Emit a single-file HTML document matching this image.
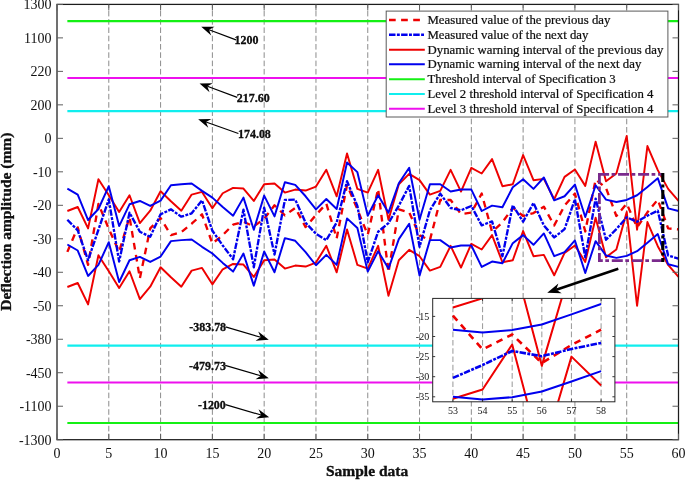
<!DOCTYPE html>
<html lang="en"><head><meta charset="utf-8"><title>Deflection amplitude chart</title>
<style>html,body{margin:0;padding:0;background:#fff;}svg{display:block;}text{font-family:"Liberation Serif","Times New Roman",serif;fill:#111;}</style>
</head><body>
<svg width="685" height="480" viewBox="0 0 685 480">
<rect width="685" height="480" fill="#fff"/>
<g stroke="#8c8c8c" stroke-width="1" stroke-dasharray="5.6 2.7" fill="none">
<line x1="108.79" y1="439.7" x2="108.79" y2="4.4"/>
<line x1="160.58" y1="439.7" x2="160.58" y2="4.4"/>
<line x1="212.38" y1="439.7" x2="212.38" y2="4.4"/>
<line x1="264.17" y1="439.7" x2="264.17" y2="4.4"/>
<line x1="315.96" y1="439.7" x2="315.96" y2="4.4"/>
<line x1="367.75" y1="439.7" x2="367.75" y2="4.4"/>
<line x1="419.54" y1="439.7" x2="419.54" y2="4.4"/>
<line x1="471.33" y1="439.7" x2="471.33" y2="4.4"/>
<line x1="523.12" y1="439.7" x2="523.12" y2="4.4"/>
<line x1="574.92" y1="439.7" x2="574.92" y2="4.4"/>
<line x1="626.71" y1="439.7" x2="626.71" y2="4.4"/>
</g>
<line x1="67.36" y1="21.1" x2="678.50" y2="21.1" stroke="#14f014" stroke-width="2.2"/>
<line x1="67.36" y1="78.0" x2="678.50" y2="78.0" stroke="#ee10ee" stroke-width="2.2"/>
<line x1="67.36" y1="111.2" x2="678.50" y2="111.2" stroke="#10eeee" stroke-width="2.2"/>
<line x1="67.36" y1="345.6" x2="678.50" y2="345.6" stroke="#10eeee" stroke-width="2.2"/>
<line x1="67.36" y1="382.5" x2="678.50" y2="382.5" stroke="#ee10ee" stroke-width="2.2"/>
<line x1="67.36" y1="423.0" x2="678.50" y2="423.0" stroke="#14f014" stroke-width="2.2"/>
<g fill="none" stroke-linejoin="round">
<polyline points="67.36,211.00 77.72,206.98 88.08,228.41 98.43,179.19 108.79,195.26 119.15,212.00 129.51,195.26 139.87,223.05 150.22,210.67 160.58,191.24 170.94,201.29 181.30,210.67 191.66,194.59 202.02,191.91 212.38,208.32 222.73,193.25 233.09,187.90 243.45,188.57 253.81,200.95 264.17,184.21 274.52,183.54 284.88,192.58 295.24,189.57 305.60,190.57 315.96,186.56 326.32,169.81 336.68,196.27 347.03,153.41 357.39,188.90 367.75,192.58 378.11,169.81 388.47,219.71 398.82,184.21 409.18,173.83 419.54,180.19 429.90,194.59 440.26,190.91 450.62,169.81 460.98,191.58 471.33,167.80 481.69,173.50 492.05,159.10 502.41,186.22 512.77,184.21 523.12,155.08 533.48,180.19 543.84,178.85 554.20,199.28 564.56,176.85 574.92,169.48 585.27,185.89 595.63,141.69 605.99,181.20 616.35,173.50 626.71,135.99 637.07,229.75 647.42,146.04 657.78,170.15 668.14,188.90 678.50,200.95" stroke="#ee0000" stroke-width="1.95"/>
<polyline points="67.36,287.01 77.72,282.99 88.08,304.42 98.43,255.20 108.79,271.27 119.15,288.01 129.51,271.27 139.87,299.06 150.22,286.68 160.58,267.25 170.94,277.30 181.30,286.68 191.66,270.60 202.02,267.92 212.38,284.33 222.73,269.26 233.09,263.91 243.45,264.58 253.81,276.96 264.17,260.22 274.52,259.55 284.88,268.59 295.24,265.58 305.60,266.58 315.96,262.57 326.32,245.82 336.68,272.28 347.03,229.42 357.39,264.91 367.75,268.59 378.11,245.82 388.47,295.72 398.82,260.22 409.18,249.84 419.54,256.20 429.90,270.60 440.26,266.92 450.62,245.82 460.98,267.59 471.33,243.82 481.69,249.51 492.05,235.11 502.41,262.23 512.77,260.22 523.12,231.09 533.48,256.20 543.84,254.86 554.20,275.29 564.56,252.86 574.92,245.49 585.27,261.90 595.63,217.70 605.99,257.21 616.35,249.51 626.71,212.00 637.07,305.76 647.42,222.05 657.78,246.16 668.14,264.91 678.50,276.96" stroke="#ee0000" stroke-width="1.95"/>
<polyline points="67.36,251.85 77.72,227.41 88.08,264.91 98.43,203.97 108.79,228.75 119.15,251.85 129.51,217.03 139.87,278.30 150.22,228.41 160.58,218.03 170.94,235.11 181.30,232.10 191.66,223.72 202.02,214.35 212.38,243.48 222.73,235.11 233.09,224.73 243.45,221.72 253.81,226.40 264.17,218.70 274.52,205.31 284.88,215.35 295.24,207.99 305.60,227.07 315.96,215.02 326.32,203.63 336.68,238.46 347.03,184.88 357.39,209.33 367.75,234.77 378.11,188.90 388.47,272.28 398.82,209.33 409.18,212.34 419.54,235.44 429.90,240.13 440.26,199.95 450.62,199.95 460.98,214.01 471.33,212.67 481.69,193.59 492.05,231.76 502.41,222.38 512.77,207.65 523.12,216.02 533.48,213.01 543.84,206.65 554.20,225.40 564.56,205.64 574.92,193.59 585.27,231.43 595.63,179.52 605.99,187.90 616.35,216.02 626.71,203.63 637.07,227.41 647.42,212.34 657.78,199.62 668.14,228.41 678.50,229.42" stroke="#ee0000" stroke-width="2.35" stroke-dasharray="6.7 5.4"/>
<polyline points="67.36,188.57 77.72,194.59 88.08,220.04 98.43,208.99 108.79,186.22 119.15,226.07 129.51,204.30 139.87,200.95 150.22,205.98 160.58,200.62 170.94,185.22 181.30,184.21 191.66,183.54 202.02,190.91 212.38,197.61 222.73,206.98 233.09,215.69 243.45,197.61 253.81,229.75 264.17,195.60 274.52,216.36 284.88,182.20 295.24,184.88 305.60,196.27 315.96,209.33 326.32,198.95 336.68,208.99 347.03,162.45 357.39,172.16 367.75,215.69 378.11,195.26 388.47,212.67 398.82,183.21 409.18,167.80 419.54,219.71 429.90,184.21 440.26,184.21 450.62,191.58 460.98,189.57 471.33,189.57 481.69,211.00 492.05,205.64 502.41,207.32 512.77,187.23 523.12,179.19 533.48,188.90 543.84,177.52 554.20,200.29 564.56,196.27 574.92,184.55 585.27,217.03 595.63,185.22 605.99,199.62 616.35,201.96 626.71,199.95 637.07,195.26 647.42,186.89 657.78,178.19 668.14,208.32 678.50,211.00" stroke="#0000ee" stroke-width="1.95"/>
<polyline points="67.36,244.48 77.72,250.51 88.08,275.96 98.43,264.91 108.79,242.14 119.15,281.99 129.51,260.22 139.87,256.87 150.22,261.90 160.58,256.54 170.94,241.14 181.30,240.13 191.66,239.46 202.02,246.83 212.38,253.53 222.73,262.90 233.09,271.61 243.45,253.53 253.81,285.67 264.17,251.52 274.52,272.28 284.88,238.12 295.24,240.80 305.60,252.19 315.96,265.25 326.32,254.86 336.68,264.91 347.03,218.37 357.39,228.08 367.75,271.61 378.11,251.18 388.47,268.59 398.82,239.13 409.18,223.72 419.54,275.63 429.90,240.13 440.26,240.13 450.62,247.50 460.98,245.49 471.33,245.49 481.69,266.92 492.05,261.56 502.41,263.24 512.77,243.15 523.12,235.11 533.48,244.82 543.84,233.43 554.20,256.20 564.56,252.19 574.92,240.47 585.27,272.95 595.63,241.14 605.99,255.53 616.35,257.88 626.71,255.87 637.07,251.18 647.42,242.81 657.78,234.10 668.14,264.24 678.50,266.92" stroke="#0000ee" stroke-width="1.95"/>
<polyline points="67.36,219.71 77.72,230.42 88.08,260.22 98.43,229.75 108.79,199.28 119.15,261.56 129.51,212.67 139.87,231.76 150.22,236.78 160.58,214.35 170.94,209.33 181.30,216.69 191.66,213.34 202.02,200.29 212.38,230.76 222.73,245.49 233.09,259.22 243.45,209.66 253.81,267.25 264.17,207.65 274.52,254.53 284.88,199.95 295.24,199.62 305.60,222.72 315.96,233.77 326.32,240.13 336.68,222.38 347.03,181.20 357.39,205.98 367.75,262.23 378.11,231.76 388.47,223.05 398.82,205.64 409.18,185.89 419.54,246.83 429.90,210.33 440.26,193.59 450.62,207.99 460.98,210.33 471.33,205.98 481.69,225.40 492.05,221.38 502.41,256.20 512.77,205.31 523.12,221.72 533.48,202.96 543.84,225.40 554.20,237.45 564.56,229.08 574.92,199.28 585.27,257.21 595.63,198.61 605.99,239.80 616.35,229.08 626.71,217.36 637.07,221.72 647.42,215.69 657.78,210.67 668.14,255.53 678.50,258.55" stroke="#0000ee" stroke-width="2.35" stroke-dasharray="6.5 1.4 2.9 1.3"/>
</g>
<rect x="57.0" y="4.4" width="621.5" height="435.3" fill="none" stroke="#1c1c1c" stroke-width="1.25"/>
<g stroke="#5e5e5e" stroke-width="1">
<line x1="57.0" y1="4.40" x2="63.0" y2="4.40"/><line x1="678.5" y1="4.40" x2="672.5" y2="4.40"/>
<line x1="57.0" y1="37.88" x2="63.0" y2="37.88"/><line x1="678.5" y1="37.88" x2="672.5" y2="37.88"/>
<line x1="57.0" y1="71.37" x2="63.0" y2="71.37"/><line x1="678.5" y1="71.37" x2="672.5" y2="71.37"/>
<line x1="57.0" y1="104.85" x2="63.0" y2="104.85"/><line x1="678.5" y1="104.85" x2="672.5" y2="104.85"/>
<line x1="57.0" y1="138.34" x2="63.0" y2="138.34"/><line x1="678.5" y1="138.34" x2="672.5" y2="138.34"/>
<line x1="57.0" y1="171.82" x2="63.0" y2="171.82"/><line x1="678.5" y1="171.82" x2="672.5" y2="171.82"/>
<line x1="57.0" y1="205.31" x2="63.0" y2="205.31"/><line x1="678.5" y1="205.31" x2="672.5" y2="205.31"/>
<line x1="57.0" y1="238.79" x2="63.0" y2="238.79"/><line x1="678.5" y1="238.79" x2="672.5" y2="238.79"/>
<line x1="57.0" y1="272.28" x2="63.0" y2="272.28"/><line x1="678.5" y1="272.28" x2="672.5" y2="272.28"/>
<line x1="57.0" y1="305.76" x2="63.0" y2="305.76"/><line x1="678.5" y1="305.76" x2="672.5" y2="305.76"/>
<line x1="57.0" y1="339.25" x2="63.0" y2="339.25"/><line x1="678.5" y1="339.25" x2="672.5" y2="339.25"/>
<line x1="57.0" y1="372.73" x2="63.0" y2="372.73"/><line x1="678.5" y1="372.73" x2="672.5" y2="372.73"/>
<line x1="57.0" y1="406.22" x2="63.0" y2="406.22"/><line x1="678.5" y1="406.22" x2="672.5" y2="406.22"/>
<line x1="57.0" y1="439.70" x2="63.0" y2="439.70"/><line x1="678.5" y1="439.70" x2="672.5" y2="439.70"/>
<line x1="57.00" y1="439.7" x2="57.00" y2="433.7"/><line x1="57.00" y1="4.4" x2="57.00" y2="10.4"/>
<line x1="108.79" y1="439.7" x2="108.79" y2="433.7"/><line x1="108.79" y1="4.4" x2="108.79" y2="10.4"/>
<line x1="160.58" y1="439.7" x2="160.58" y2="433.7"/><line x1="160.58" y1="4.4" x2="160.58" y2="10.4"/>
<line x1="212.38" y1="439.7" x2="212.38" y2="433.7"/><line x1="212.38" y1="4.4" x2="212.38" y2="10.4"/>
<line x1="264.17" y1="439.7" x2="264.17" y2="433.7"/><line x1="264.17" y1="4.4" x2="264.17" y2="10.4"/>
<line x1="315.96" y1="439.7" x2="315.96" y2="433.7"/><line x1="315.96" y1="4.4" x2="315.96" y2="10.4"/>
<line x1="367.75" y1="439.7" x2="367.75" y2="433.7"/><line x1="367.75" y1="4.4" x2="367.75" y2="10.4"/>
<line x1="419.54" y1="439.7" x2="419.54" y2="433.7"/><line x1="419.54" y1="4.4" x2="419.54" y2="10.4"/>
<line x1="471.33" y1="439.7" x2="471.33" y2="433.7"/><line x1="471.33" y1="4.4" x2="471.33" y2="10.4"/>
<line x1="523.12" y1="439.7" x2="523.12" y2="433.7"/><line x1="523.12" y1="4.4" x2="523.12" y2="10.4"/>
<line x1="574.92" y1="439.7" x2="574.92" y2="433.7"/><line x1="574.92" y1="4.4" x2="574.92" y2="10.4"/>
<line x1="626.71" y1="439.7" x2="626.71" y2="433.7"/><line x1="626.71" y1="4.4" x2="626.71" y2="10.4"/>
<line x1="678.50" y1="439.7" x2="678.50" y2="433.7"/><line x1="678.50" y1="4.4" x2="678.50" y2="10.4"/>
</g>
<g font-size="14" text-anchor="end">
<text x="51.6" y="9.40">1300</text>
<text x="51.6" y="42.88">1100</text>
<text x="51.6" y="76.37">220</text>
<text x="51.6" y="109.85">200</text>
<text x="51.6" y="143.34">0</text>
<text x="51.6" y="176.82">-10</text>
<text x="51.6" y="210.31">-20</text>
<text x="51.6" y="243.79">-30</text>
<text x="51.6" y="277.28">-40</text>
<text x="51.6" y="310.76">-50</text>
<text x="51.6" y="344.25">-380</text>
<text x="51.6" y="377.73">-450</text>
<text x="51.6" y="411.22">-1100</text>
<text x="51.6" y="444.70">-1300</text>
</g>
<g font-size="14" text-anchor="middle">
<text x="57.00" y="457.5">0</text>
<text x="108.79" y="457.5">5</text>
<text x="160.58" y="457.5">10</text>
<text x="212.38" y="457.5">15</text>
<text x="264.17" y="457.5">20</text>
<text x="315.96" y="457.5">25</text>
<text x="367.75" y="457.5">30</text>
<text x="419.54" y="457.5">35</text>
<text x="471.33" y="457.5">40</text>
<text x="523.12" y="457.5">45</text>
<text x="574.92" y="457.5">50</text>
<text x="626.71" y="457.5">55</text>
<text x="678.50" y="457.5">60</text>
</g>
<text x="367.1" y="476.1" font-size="15.5" font-weight="bold" text-anchor="middle" fill="#000" stroke="#000" stroke-width="0.3">Sample data</text>
<text transform="translate(10.6 221.7) rotate(-90)" font-size="15.5" font-weight="bold" text-anchor="middle" fill="#000" stroke="#000" stroke-width="0.3">Deflection amplitude (mm)</text>
<line x1="236.00" y1="39.90" x2="209.03" y2="29.75" stroke="#000" stroke-width="1.2"/>
<polygon points="201.25,26.82 214.51,26.79 209.03,29.75 211.20,35.59" fill="#000"/>
<line x1="237.20" y1="97.40" x2="207.34" y2="86.31" stroke="#000" stroke-width="1.2"/>
<polygon points="199.55,83.42 212.81,83.33 207.34,86.31 209.54,92.14" fill="#000"/>
<line x1="238.40" y1="133.50" x2="205.98" y2="122.01" stroke="#000" stroke-width="1.2"/>
<polygon points="198.15,119.23 211.40,118.95 205.98,122.01 208.26,127.81" fill="#000"/>
<line x1="225.50" y1="326.90" x2="260.80" y2="337.28" stroke="#000" stroke-width="1.2"/>
<polygon points="268.77,339.63 255.55,340.64 260.80,337.28 258.20,331.62" fill="#000"/>
<line x1="225.20" y1="365.30" x2="260.80" y2="375.78" stroke="#000" stroke-width="1.2"/>
<polygon points="268.77,378.13 255.54,379.13 260.80,375.78 258.20,370.12" fill="#000"/>
<line x1="225.50" y1="404.70" x2="261.19" y2="415.02" stroke="#000" stroke-width="1.2"/>
<polygon points="269.17,417.32 255.95,418.39 261.19,415.02 258.56,409.36" fill="#000"/>
<g font-size="11.95" font-weight="bold" fill="#000" stroke="#000" stroke-width="0.3">
<text x="234.6" y="43.8">1200</text>
<text x="236.8" y="101.6">217.60</text>
<text x="238.0" y="138.0">174.08</text>
<text x="226.1" y="331" text-anchor="end">-383.78</text>
<text x="225.9" y="369.6" text-anchor="end">-479.73</text>
<text x="225.8" y="409" text-anchor="end">-1200</text>
</g>
<path d="M598.1 174.4 H662.5" fill="none" stroke="#7a2a8c" stroke-width="2.8" stroke-dasharray="11 2.5 3.7 2.8"/>
<path d="M599.4 173 V260.6 H662.5" fill="none" stroke="#7a2a8c" stroke-width="2.8" stroke-dasharray="11 2.5 3.7 2.8"/>
<line x1="662.8" y1="173" x2="662.8" y2="262" stroke="#000" stroke-width="3.1" stroke-dasharray="9 2.5 3 2.5"/>
<line x1="618.30" y1="268.80" x2="556.20" y2="289.74" stroke="#000" stroke-width="2.6"/>
<polygon points="547.24,292.76 558.37,283.52 556.20,289.74 561.70,293.37" fill="#000"/>
<rect x="386.2" y="11.1" width="281.7" height="105.9" fill="#fff" stroke="#5a5a5a" stroke-width="1"/>
<line x1="389" y1="20" x2="424.8" y2="20" stroke="#ee0000" stroke-width="2.5" stroke-dasharray="6.7 5.4"/>
<text transform="translate(427.5 24.15) scale(0.955 1)" font-size="13.4" fill="#000" stroke="#000" stroke-width="0.22">Measured value of the previous day</text>
<line x1="389" y1="34.8" x2="424.8" y2="34.8" stroke="#0000ee" stroke-width="2.5" stroke-dasharray="6.5 1.4 2.9 1.3"/>
<text transform="translate(427.5 38.95) scale(0.955 1)" font-size="13.4" fill="#000" stroke="#000" stroke-width="0.22">Measured value of the next day</text>
<line x1="389" y1="49.7" x2="424.8" y2="49.7" stroke="#ee0000" stroke-width="1.95"/>
<text transform="translate(427.5 53.85) scale(0.955 1)" font-size="13.4" fill="#000" stroke="#000" stroke-width="0.22">Dynamic warning interval of the previous day</text>
<line x1="389" y1="64.3" x2="424.8" y2="64.3" stroke="#0000ee" stroke-width="1.95"/>
<text transform="translate(427.5 68.45) scale(0.955 1)" font-size="13.4" fill="#000" stroke="#000" stroke-width="0.22">Dynamic warning interval of the next day</text>
<line x1="389" y1="79.2" x2="424.8" y2="79.2" stroke="#14f014" stroke-width="2.0"/>
<text transform="translate(427.5 83.35) scale(0.955 1)" font-size="13.4" fill="#000" stroke="#000" stroke-width="0.22">Threshold interval of Specification 3</text>
<line x1="389" y1="94" x2="424.8" y2="94" stroke="#10eeee" stroke-width="2.0"/>
<text transform="translate(427.5 98.15) scale(0.955 1)" font-size="13.4" fill="#000" stroke="#000" stroke-width="0.22">Level 2 threshold interval of Specification 4</text>
<line x1="389" y1="108.8" x2="424.8" y2="108.8" stroke="#ee10ee" stroke-width="2.0"/>
<text transform="translate(427.5 112.95) scale(0.955 1)" font-size="13.4" fill="#000" stroke="#000" stroke-width="0.22">Level 3 threshold interval of Specification 4</text>
<rect x="432.7" y="298.4" width="182.2" height="103.40000000000003" fill="#fff"/>
<clipPath id="ic"><rect x="432.7" y="298.4" width="182.2" height="103.40000000000003"/></clipPath>
<g stroke="#a0a0a0" stroke-width="1.1" stroke-dasharray="5.6 2.7">
<line x1="452.90" y1="298.4" x2="452.90" y2="401.8"/>
<line x1="482.54" y1="298.4" x2="482.54" y2="401.8"/>
<line x1="512.18" y1="298.4" x2="512.18" y2="401.8"/>
<line x1="541.82" y1="298.4" x2="541.82" y2="401.8"/>
<line x1="571.46" y1="298.4" x2="571.46" y2="401.8"/>
<line x1="601.10" y1="298.4" x2="601.10" y2="401.8"/>
</g>
<g clip-path="url(#ic)" fill="none" stroke-linejoin="round">
<polyline points="452.90,307.56 482.54,298.31 512.18,253.29 541.82,365.85 571.46,265.35 601.10,294.29" stroke="#ee0000" stroke-width="2.0"/>
<polyline points="452.90,398.81 482.54,389.56 512.18,344.54 541.82,457.10 571.46,356.60 601.10,385.54" stroke="#ee0000" stroke-width="2.0"/>
<polyline points="452.90,315.60 482.54,349.36 512.18,334.49 541.82,363.03 571.46,344.94 601.10,329.67" stroke="#ee0000" stroke-width="2.6" stroke-dasharray="6.7 5.4"/>
<polyline points="452.90,329.67 482.54,332.48 512.18,330.07 541.82,324.44 571.46,314.39 601.10,303.94" stroke="#0000ee" stroke-width="2.0"/>
<polyline points="452.90,396.80 482.54,399.61 512.18,397.20 541.82,391.57 571.46,381.52 601.10,371.07" stroke="#0000ee" stroke-width="2.0"/>
<polyline points="452.90,377.91 482.54,365.04 512.18,350.97 541.82,356.20 571.46,348.96 601.10,342.93" stroke="#0000ee" stroke-width="2.6" stroke-dasharray="6.5 1.4 2.9 1.3"/>
</g>
<rect x="432.7" y="298.4" width="182.2" height="103.40000000000003" fill="none" stroke="#262626" stroke-width="1"/>
<g stroke="#262626" stroke-width="0.9">
<line x1="432.7" y1="316.40" x2="435.2" y2="316.40"/><line x1="614.9" y1="316.40" x2="612.4" y2="316.40"/>
<line x1="432.7" y1="336.50" x2="435.2" y2="336.50"/><line x1="614.9" y1="336.50" x2="612.4" y2="336.50"/>
<line x1="432.7" y1="356.60" x2="435.2" y2="356.60"/><line x1="614.9" y1="356.60" x2="612.4" y2="356.60"/>
<line x1="432.7" y1="376.70" x2="435.2" y2="376.70"/><line x1="614.9" y1="376.70" x2="612.4" y2="376.70"/>
<line x1="432.7" y1="396.80" x2="435.2" y2="396.80"/><line x1="614.9" y1="396.80" x2="612.4" y2="396.80"/>
<line x1="452.90" y1="401.8" x2="452.90" y2="399.3"/><line x1="452.90" y1="298.4" x2="452.90" y2="300.9"/>
<line x1="482.54" y1="401.8" x2="482.54" y2="399.3"/><line x1="482.54" y1="298.4" x2="482.54" y2="300.9"/>
<line x1="512.18" y1="401.8" x2="512.18" y2="399.3"/><line x1="512.18" y1="298.4" x2="512.18" y2="300.9"/>
<line x1="541.82" y1="401.8" x2="541.82" y2="399.3"/><line x1="541.82" y1="298.4" x2="541.82" y2="300.9"/>
<line x1="571.46" y1="401.8" x2="571.46" y2="399.3"/><line x1="571.46" y1="298.4" x2="571.46" y2="300.9"/>
<line x1="601.10" y1="401.8" x2="601.10" y2="399.3"/><line x1="601.10" y1="298.4" x2="601.10" y2="300.9"/>
</g>
<g font-size="10" text-anchor="end">
<text x="429.2" y="319.60">-15</text>
<text x="429.2" y="339.70">-20</text>
<text x="429.2" y="359.80">-25</text>
<text x="429.2" y="379.90">-30</text>
<text x="429.2" y="400.00">-35</text>
</g>
<g font-size="10" text-anchor="middle">
<text x="452.90" y="414.2">53</text>
<text x="482.54" y="414.2">54</text>
<text x="512.18" y="414.2">55</text>
<text x="541.82" y="414.2">56</text>
<text x="571.46" y="414.2">57</text>
<text x="601.10" y="414.2">58</text>
</g>
</svg>
</body></html>
